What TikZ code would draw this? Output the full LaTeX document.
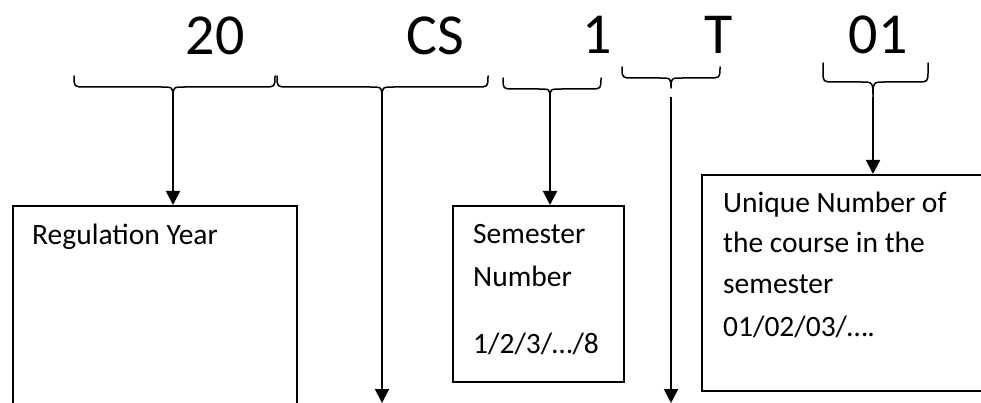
\documentclass[tikz,border=0pt]{standalone}
\usepackage{fontspec}
\setmainfont{Carlito}
\usetikzlibrary{arrows.meta}
\newcommand\cbrace[7]{% xL xR yT yH xM yP r
  \draw[bracestyle] (#1,#3) -- (#1,{#4-#7}) .. controls (#1,#4) .. ({#1+#7},#4)
    -- ({#5-12},#4) .. controls (#5,#4) .. (#5,#6)
    .. controls (#5,#4) .. ({#5+12},#4) -- ({#2-#7},#4)
    .. controls (#2,#4) .. (#2,{#4-#7}) -- (#2,#3);}
\begin{document}
\begin{tikzpicture}[x=1pt,y=-1pt,
  bigtext/.style={inner sep=0pt,anchor=base,font=\fontsize{58}{70}\selectfont},
  boxtext/.style={inner sep=0pt,anchor=base west,font=\fontsize{29.5}{35}\selectfont},
  box/.style={draw,line width=1.6pt,inner sep=0pt,anchor=north west},
  bracestyle/.style={line width=1.5pt,line cap=round,line join=round},
  conn/.style={line width=2pt,-{Triangle[width=14pt,length=14pt]}}]
\clip (0,0) rectangle (981,403);
\fill[white] (0,0) rectangle (981,403);
% big code text
\node[bigtext] (c20) at (215,55) {20};
\node[bigtext] (ccs) at (435,55) {CS};
\node[bigtext] (c1) at (597,54) {1};
\node[bigtext] (ct) at (719,54) {T};
\node[bigtext] (c01) at (878,54) {01};
% braces
\cbrace{74}{275}{76}{87}{173}{98}{11}
\cbrace{277}{488}{76}{87}{382}{98}{11}
\cbrace{503}{601}{78}{89}{550}{98}{11}
\cbrace{622}{720}{67}{78}{671}{88}{11}
\cbrace{823}{928}{63}{82}{873}{98}{11}
\coordinate (t1) at (173,97);
\coordinate (t2) at (382,97);
\coordinate (t3) at (550,97);
\coordinate (t4) at (671,97);
\coordinate (t5) at (873,97);
\coordinate (e2) at (382,403);
\coordinate (e4) at (671,403);
% boxes
\node[box,minimum width=284pt,minimum height=240pt] (b1) at (12,205) {};
\node[box,minimum width=171pt,minimum height=176pt] (b3) at (452,205) {};
\node[box,minimum width=300pt,minimum height=216pt] (b5) at (701,174) {};
% box texts
\node[boxtext] (r1) at (32,244) {Regulation Year};
\node[boxtext] (s1) at (473,243) {Semester};
\node[boxtext] (s2) at (473,286) {Number};
\node[boxtext] (s3) at (473,353) {1/2/3/…/8};
\node[boxtext] (u1) at (723,212) {Unique Number of};
\node[boxtext] (u2) at (723,252) {the course in the};
\node[boxtext] (u3) at (723,293) {semester};
\node[boxtext] (u4) at (723,336) {01/02/03/….};
% connectors
\draw[conn] (t1) -- (t1 |- b1.north);
\draw[conn] (t2) -- (e2);
\draw[conn] (t3) -- (t3 |- b3.north);
\draw[conn] (t4) -- (e4);
\draw[conn] (t5) -- (t5 |- b5.north);
\end{tikzpicture}
\end{document}
